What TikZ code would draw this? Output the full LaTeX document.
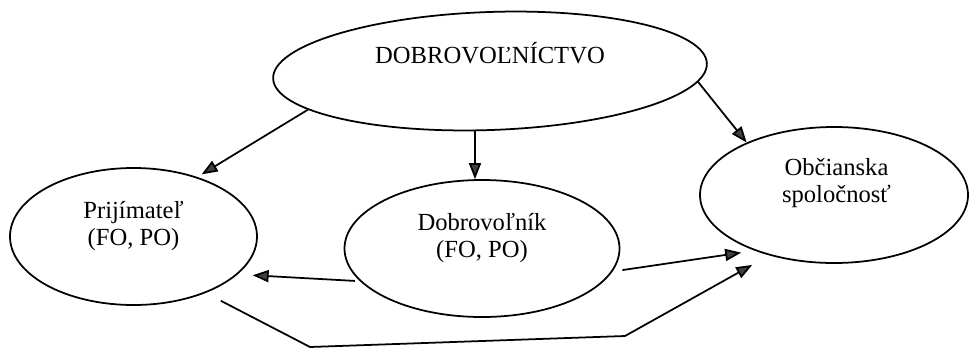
\documentclass[tikz,border=0pt]{standalone}
\usepackage{fontspec}
\setmainfont{Liberation Serif}
\usepackage{xcolor}
\usepackage{tikz}
\usetikzlibrary{shapes.geometric, positioning, arrows.meta}

\begin{document}
\begin{tikzpicture}[on grid, line width=1pt,
        oval/.style={draw, ellipse, inner sep=0pt},
        txt/.style={align=center, font=\fontsize{14}{15.3}\selectfont},
        >={Triangle[length=3.2mm, width=2.4mm, fill=black!75]}]
        \useasboundingbox (0,0) rectangle (19.4,-6.98);

        \node[oval, minimum width=8.68cm, minimum height=2.36cm, rotate=2] (dobro) at (9.8,-1.42) {};
        \node[oval, minimum width=4.94cm, minimum height=2.74cm] (prij) [below left=3.31cm and 7.13cm of dobro] {};
        \node[oval, minimum width=5.5cm, minimum height=2.74cm] (voln) [below left=3.55cm and 0.16cm of dobro] {};
        \node[oval, minimum width=5.36cm, minimum height=2.72cm] (obc) [below right=2.48cm and 6.88cm of dobro] {};

        \node[txt, anchor=base] (dobro-t) at ([yshift=1.6mm]dobro.center) {DOBROVOĽNÍCTVO};
        \node[txt] (prij-t) at ([yshift=2mm]prij.center) {Prijímateľ\\(FO, PO)};
        \node[txt] (voln-t) at ([yshift=2mm]voln.center) {Dobrovoľník\\(FO, PO)};
        \node[txt] (obc-t) at ([yshift=2.4mm, xshift=0.5mm]obc.center) {Občianska\\spoločnosť};

        %\coordinate (knee0) at (4.36,-6.06);
        \coordinate (knee1) at (6.2,-6.94);
        \coordinate (knee2) at (12.5,-6.72);

        \path[->]
        (dobro.190) edge [shorten >=1mm] (prij.43)
        (dobro.254) edge (dobro.254 |- voln.north)
        (dobro.355) edge (obc.149)
        (voln.195) edge [shorten <=1mm, shorten >=3mm] (prij.340)
        (voln.350) edge [shorten <=2mm, shorten >=2.7mm] (obc.215);

        \draw[->, shorten <=3.4mm, shorten >=3.9mm] (prij.322) -- (knee1) -- (knee2) -- (obc.223);

    \end{tikzpicture}
\end{document}
